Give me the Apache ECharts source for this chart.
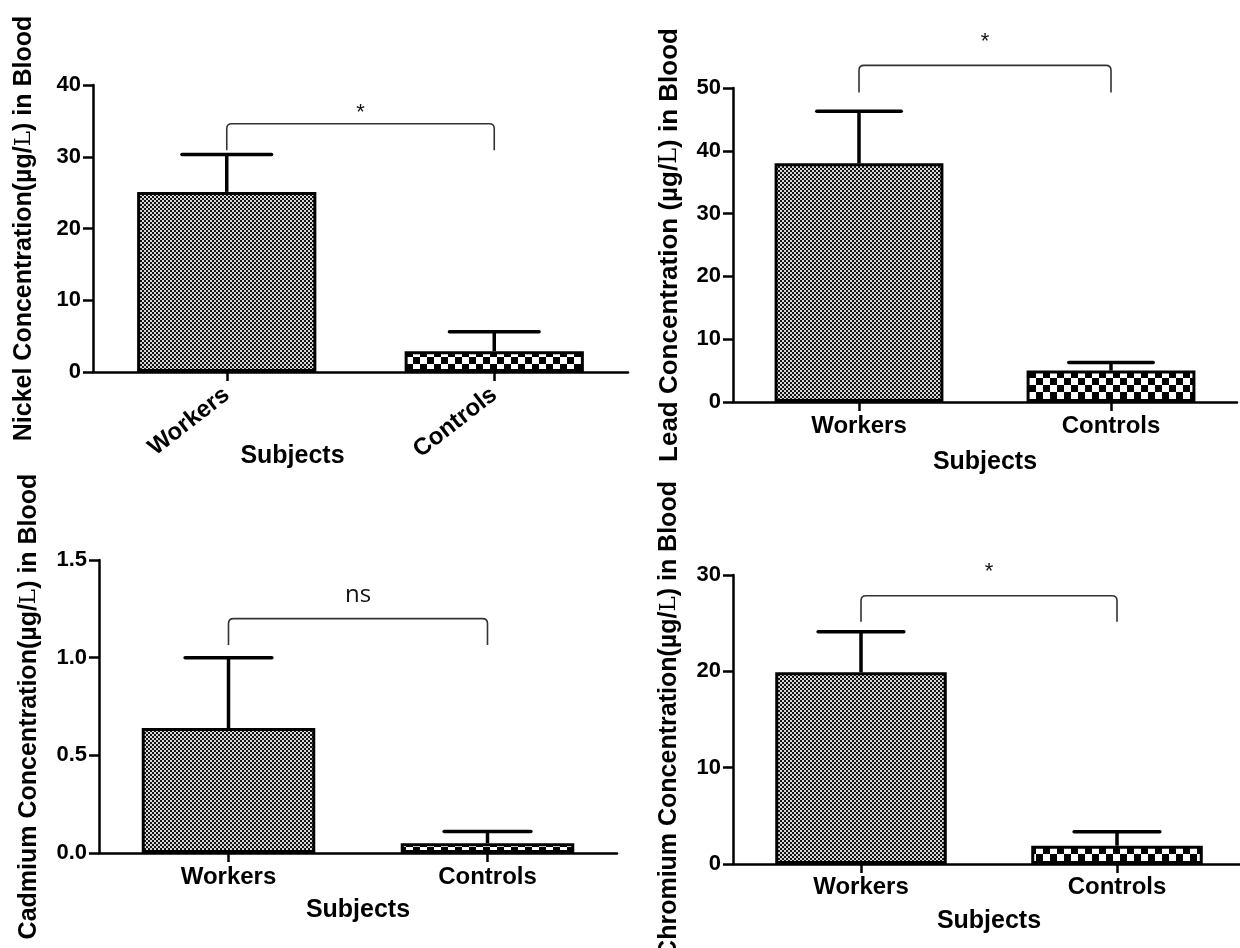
<!DOCTYPE html>
<html>
<head>
<meta charset="utf-8">
<script src="https://cdn.jsdelivr.net/npm/echarts@6/dist/echarts.min.js"></script>
<style>
  html, body { margin: 0; padding: 0; background: #fff; }
  #chart { width: 1240px; height: 948px; }
</style>
</head>
<body>
<div id="chart"></div>
<script>
// Data (mean bar and upper end of the error bar)
const categories = ['Workers', 'Controls'];

const nickelMean = [25.1, 2.9];
const nickelUpper = [30.3, 5.6];
const leadMean = [38.0, 5.0];
const leadUpper = [46.3, 6.3];
const cadmiumMean = [0.64, 0.05];
const cadmiumUpper = [1.0, 0.11];
const chromiumMean = [19.9, 1.9];
const chromiumUpper = [24.1, 3.35];

// y axis ranges [max, interval]
const nickelAxis = [40, 10];
const leadAxis = [50, 10];
const cadmiumAxis = [1.5, 0.5];
const chromiumAxis = [30, 10];

// significance bracket: [top, leg end, label centre]
const nickelBracket = [34.6, 30.9, 36.1];
const leadBracket = [53.6, 49.3, 57.3];
const cadmiumBracket = [1.2, 1.065, 1.32];
const chromiumBracket = [27.85, 25.15, 30.3];
const sigLabels = ['*', '*', 'ns', '*'];

const yTitles = [
  ['Nickel Concentration(µg/', ') in Blood'],
  ['Lead Concentration (µg/', ') in Blood'],
  ['Cadmium Concentration(µg/', ') in Blood'],
  ['Chromium Concentration(µg/', ') in Blood']
];

const FONT = '"Liberation Sans", Arial, sans-serif';

/**
 * Checkerboard fill used by the bars
 */
function makeChecker(cell, dark, light) {
  const c = document.createElement('canvas');
  c.width = c.height = cell * 2;
  const ctx = c.getContext('2d');
  ctx.fillStyle = light;
  ctx.fillRect(0, 0, cell * 2, cell * 2);
  ctx.fillStyle = dark;
  ctx.fillRect(0, 0, cell, cell);
  ctx.fillRect(cell, cell, cell, cell);
  return c;
}

const workersFill = { image: makeChecker(2, '#151515', '#d8d8d8'), repeat: 'repeat' };
const controlsFill = { image: makeChecker(7, '#000', '#fff'), repeat: 'repeat' };

const panels = [
  { mean: nickelMean, upper: nickelUpper, axis: nickelAxis, bracket: nickelBracket,
    grid: { left: 93, top: 85, width: 535, height: 287 },
    nameGap: 56, subjGap: 72, subjPad: [0, 136, 0, 0], rotate: 38, labelMargin: 20, titleSize: 25, digits: 0 },
  { mean: leadMean, upper: leadUpper, axis: leadAxis, bracket: leadBracket,
    grid: { left: 733, top: 88, width: 504, height: 314 },
    nameGap: 50, subjGap: 48, subjPad: 0, rotate: 0, labelMargin: 12, titleSize: 26, digits: 0 },
  { mean: cadmiumMean, upper: cadmiumUpper, axis: cadmiumAxis, bracket: cadmiumBracket,
    grid: { left: 99, top: 560, width: 518, height: 293 },
    nameGap: 57, subjGap: 45, subjPad: 0, rotate: 0, labelMargin: 12, titleSize: 25, digits: 1 },
  { mean: chromiumMean, upper: chromiumUpper, axis: chromiumAxis, bracket: chromiumBracket,
    grid: { left: 733, top: 575, width: 512, height: 289 },
    nameGap: 51, subjGap: 45, subjPad: 0, rotate: 0, labelMargin: 11, titleSize: 25, digits: 0 }
];

function errorBarItem(params, api) {
  const base = api.coord([api.value(0), api.value(1)]);
  const top = api.coord([api.value(0), api.value(2)]);
  const half = api.size([1, 0])[0] * 0.67 / 4;
  const style = { stroke: '#000', lineWidth: 3.5 };
  return {
    type: 'group',
    children: [
      { type: 'line', shape: { x1: base[0], y1: base[1], x2: top[0], y2: top[1] }, style },
      { type: 'line', shape: { x1: top[0] - half, y1: top[1], x2: top[0] + half, y2: top[1] },
        style: { ...style, lineCap: 'round' } }
    ]
  };
}

function bracketItem(br, label) {
  return function (params, api) {
    const a = api.coord([0, br[0]]);
    const b = api.coord([1, br[0]]);
    const legY = api.coord([0, br[1]])[1];
    const labY = api.coord([0, br[2]])[1];
    const r = 5;
    const d = `M${a[0]},${legY} L${a[0]},${a[1] + r} Q${a[0]},${a[1]} ${a[0] + r},${a[1]} ` +
      `L${b[0] - r},${b[1]} Q${b[0]},${b[1]} ${b[0]},${b[1] + r} L${b[0]},${legY}`;
    const isNs = label === 'ns';
    return {
      type: 'group',
      children: [
        { type: 'path', shape: { pathData: d }, style: { stroke: '#333', lineWidth: 1.6, fill: null } },
        { type: 'text', style: {
          text: label, x: (a[0] + b[0]) / 2, y: labY, align: 'center', verticalAlign: 'middle',
          font: isNs ? '24px "Open Sans", sans-serif' : '22px ' + FONT, fill: '#111' } }
      ]
    };
  };
}

const option = {
  backgroundColor: '#fff',
  animation: false,
  grid: [],
  xAxis: [],
  yAxis: [],
  series: []
};

panels.forEach((p, k) => {
  option.grid.push({ ...p.grid, containLabel: false, outerBoundsMode: 'none' });

  option.xAxis.push({
    type: 'category',
    gridIndex: k,
    data: categories,
    name: 'Subjects',
    nameLocation: 'middle',
    nameGap: p.subjGap,
    nameMoveOverlap: false,
    nameTextStyle: { fontFamily: FONT, fontWeight: 'bold', fontSize: 25, color: '#000', padding: p.subjPad },
    axisLine: { show: true, lineStyle: { color: '#000', width: 2.5 } },
    axisTick: { show: true, alignWithLabel: true, length: 9, lineStyle: { color: '#000', width: 2.5 } },
    axisLabel: {
      rotate: p.rotate, margin: p.labelMargin, interval: 0,
      fontFamily: FONT, fontWeight: 'bold', fontSize: 24, color: '#000'
    },
    splitLine: { show: false }
  });

  option.yAxis.push({
    type: 'value',
    gridIndex: k,
    min: 0,
    max: p.axis[0],
    interval: p.axis[1],
    name: `{a|${yTitles[k][0]}}{b|L}{a|${yTitles[k][1]}}`,
    nameLocation: 'middle',
    nameGap: p.nameGap,
    nameTextStyle: {
      rich: {
        a: { fontFamily: FONT, fontWeight: 'bold', fontSize: p.titleSize, color: '#000' },
        b: { fontFamily: '"DejaVu Serif", serif', fontSize: p.titleSize - 2, color: '#000' }
      }
    },
    axisLine: { show: true, lineStyle: { color: '#000', width: 2.5 } },
    axisTick: { show: true, length: 10, lineStyle: { color: '#000', width: 2.5 } },
    axisLabel: {
      margin: 12, fontFamily: FONT, fontWeight: 'bold', fontSize: 22, color: '#000',
      formatter: v => v.toFixed(p.digits)
    },
    splitLine: { show: false }
  });

  option.series.push({
    type: 'bar',
    xAxisIndex: k,
    yAxisIndex: k,
    barWidth: '67%',
    z: 2,
    data: p.mean.map((v, i) => ({
      value: v,
      itemStyle: { color: i === 0 ? workersFill : controlsFill, borderColor: '#000', borderWidth: 3 }
    }))
  });

  option.series.push({
    type: 'custom',
    xAxisIndex: k,
    yAxisIndex: k,
    z: 3,
    clip: false,
    renderItem: errorBarItem,
    data: p.mean.map((v, i) => [i, v, p.upper[i]])
  });

  option.series.push({
    type: 'custom',
    xAxisIndex: k,
    yAxisIndex: k,
    z: 3,
    clip: false,
    renderItem: bracketItem(p.bracket, sigLabels[k]),
    data: [[0, p.bracket[0]]]
  });
});

const chart = echarts.init(document.getElementById('chart'));
chart.setOption(option);
</script>
</body>
</html>
